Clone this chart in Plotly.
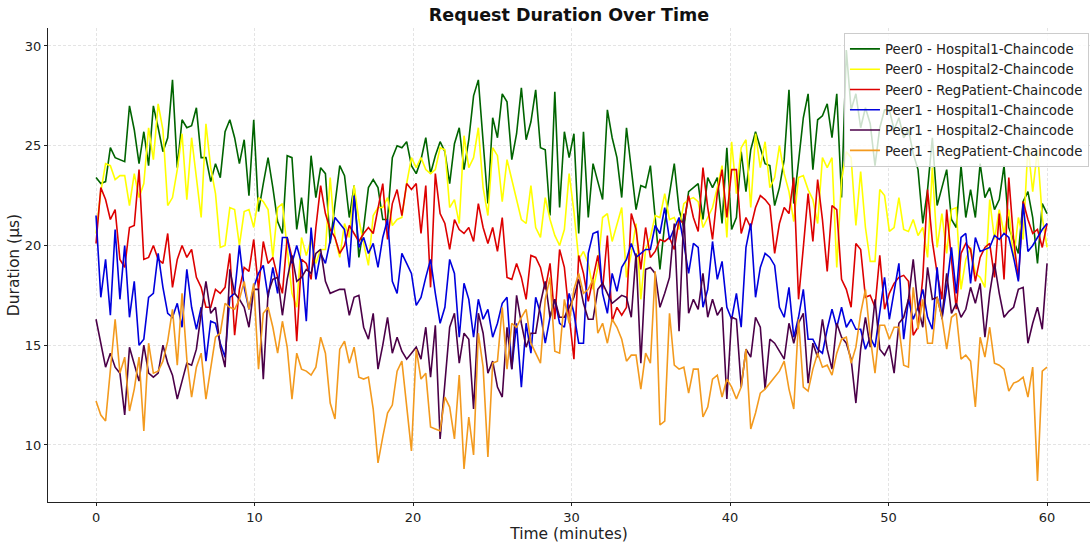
import plotly.graph_objects as go

n_points = 200
time_min = [i * 60 / (n_points - 1) for i in range(n_points)]

peer0_hosp1 = [
    23.4, 23.1, 23.2, 24.9, 24.4, 24.3, 24.2, 27.0, 25.8, 24.1, 25.7, 24.0, 27.0, 25.9, 24.7, 25.4, 28.3, 23.9, 26.3, 25.9, 26.0, 26.9, 24.4, 24.4, 23.2,
    24.1, 23.4, 25.7, 26.3, 25.4, 24.1, 25.3, 22.5, 26.3, 21.7, 23.1, 24.4, 22.9, 21.2, 20.6, 24.5, 24.4, 20.8, 22.4, 20.6, 24.5, 22.4, 23.9, 23.6, 20.1,
    22.1, 24.0, 23.5, 21.4, 23.0, 19.4, 20.9, 22.9, 23.3, 22.9, 21.3, 21.3, 24.4, 25.0, 24.9, 25.2, 24.0, 23.6, 24.3, 25.4, 23.6, 24.5, 25.2, 24.7, 23.1,
    25.1, 25.9, 23.8, 25.3, 27.5, 28.3, 25.1, 22.1, 26.4, 25.4, 27.6, 27.2, 24.3, 25.6, 27.9, 25.3, 26.2, 27.8, 24.9, 24.8, 21.5, 27.7, 21.9, 25.7, 24.4,
    25.6, 20.6, 25.7, 21.4, 24.1, 23.2, 22.3, 26.8, 25.4, 24.4, 22.4, 25.9, 24.0, 21.8, 23.0, 22.9, 24.0, 21.5, 18.8, 21.1, 22.7, 24.1, 21.8, 20.9, 22.7,
    22.9, 23.1, 21.3, 23.4, 22.9, 23.4, 21.1, 24.9, 20.8, 21.4, 24.7, 22.7, 24.8, 25.7, 24.9, 24.1, 24.0, 22.0, 22.9, 24.3, 27.8, 22.1, 24.2, 26.4, 27.6,
    23.8, 26.3, 26.5, 27.1, 25.4, 27.6, 22.4, 29.8, 26.8, 27.6, 25.9, 26.9, 26.1, 24.0, 25.9, 26.8, 26.8, 25.8, 26.4, 25.4, 25.8, 24.6, 23.8, 21.1, 22.8,
    25.4, 22.0, 22.9, 23.8, 21.3, 20.9, 24.0, 21.4, 22.8, 21.4, 24.1, 22.4, 22.9, 21.8, 22.3, 24.0, 20.9, 20.3, 19.6, 22.2, 22.7, 21.4, 19.1, 22.1, 21.6,
]

peer0_hosp2 = [
    20.6, 22.7, 24.1, 24.0, 23.3, 23.5, 23.5, 22.0, 23.6, 22.4, 23.1, 25.9, 24.3, 27.1, 25.8, 22.0, 22.4, 23.8, 25.6, 22.3, 25.4, 23.5, 21.4, 26.1, 23.9,
    22.6, 19.9, 20.0, 21.9, 21.8, 20.0, 21.7, 21.8, 20.9, 22.4, 22.2, 21.8, 19.4, 21.9, 22.1, 19.9, 17.6, 16.9, 20.4, 19.5, 20.3, 19.1, 19.8, 19.8, 23.4,
    20.4, 19.4, 21.1, 20.4, 23.0, 21.3, 20.1, 19.0, 21.5, 21.9, 21.9, 22.4, 21.0, 21.3, 21.4, 23.1, 24.4, 23.9, 24.4, 23.8, 23.6, 23.8, 24.9, 24.8, 21.9,
    22.3, 21.1, 25.5, 23.9, 24.4, 25.9, 22.9, 21.5, 24.9, 24.5, 22.2, 24.3, 23.3, 22.2, 21.3, 21.1, 23.0, 20.9, 20.4, 22.4, 21.3, 20.5, 20.0, 20.8, 23.6,
    21.7, 19.3, 19.7, 19.1, 17.8, 18.9, 21.4, 21.6, 20.2, 21.1, 21.9, 18.4, 19.6, 21.1, 17.3, 19.8, 20.4, 21.5, 21.4, 22.6, 21.3, 21.4, 20.8, 22.1, 22.3,
    22.4, 22.2, 20.9, 21.4, 21.9, 22.9, 24.0, 20.4, 25.2, 22.6, 24.9, 25.3, 21.9, 25.6, 23.9, 25.2, 22.9, 23.4, 25.0, 23.6, 22.7, 21.2, 23.4, 23.5, 22.8,
    22.3, 21.1, 24.4, 23.9, 24.4, 18.9, 23.3, 24.7, 24.4, 21.0, 23.7, 20.9, 19.2, 19.2, 22.8, 22.5, 20.7, 20.9, 22.4, 20.8, 20.7, 21.3, 20.5, 20.9, 19.4,
    23.9, 19.9, 21.6, 19.6, 21.8, 21.9, 17.8, 19.3, 19.9, 18.6, 18.4, 17.9, 22.3, 20.3, 21.8, 20.6, 21.8, 19.3, 21.4, 20.3, 25.0, 22.7, 24.8, 21.4, 19.9,
]

peer0_regpatient = [
    20.1, 22.9, 22.3, 21.3, 21.8, 19.3, 18.9, 20.9, 21.0, 23.8, 19.3, 19.4, 20.0, 19.3, 19.1, 20.6, 17.9, 19.3, 20.0, 19.4, 19.8, 18.4, 17.9, 16.9, 16.9,
    17.8, 17.6, 17.9, 19.6, 15.5, 17.8, 18.9, 18.7, 20.3, 17.8, 20.2, 19.1, 19.4, 18.4, 17.6, 20.4, 19.4, 15.2, 19.3, 19.1, 18.3, 20.9, 23.0, 21.6, 20.8,
    20.4, 19.6, 20.0, 21.0, 20.6, 20.2, 20.6, 20.9, 20.6, 21.8, 23.1, 20.3, 22.1, 22.8, 21.5, 23.1, 22.8, 23.1, 20.6, 23.0, 17.9, 23.6, 21.6, 21.1, 19.8,
    21.3, 20.8, 20.6, 20.9, 20.2, 22.1, 20.9, 20.1, 20.9, 19.7, 21.4, 18.4, 18.3, 19.1, 18.4, 17.3, 19.5, 19.4, 18.9, 17.8, 19.1, 16.3, 19.8, 18.9, 16.5,
    14.3, 19.5, 18.6, 17.2, 18.4, 19.5, 17.8, 20.5, 16.2, 16.9, 16.5, 16.9, 21.6, 20.8, 18.8, 20.9, 19.4, 19.7, 20.3, 20.2, 20.4, 19.8, 21.3, 21.1, 22.5,
    21.4, 20.7, 23.9, 21.9, 20.3, 22.6, 23.8, 21.4, 23.8, 23.8, 20.6, 21.4, 20.9, 21.9, 22.5, 22.3, 22.0, 19.6, 21.1, 21.9, 21.6, 23.4, 17.3, 19.9, 22.6,
    20.2, 23.3, 21.3, 18.7, 22.0, 21.8, 18.3, 17.8, 16.9, 20.1, 19.8, 17.4, 17.5, 16.9, 19.5, 16.8, 17.6, 18.1, 18.4, 18.5, 18.2, 15.5, 15.9, 18.4, 22.8,
    20.2, 18.6, 17.3, 21.8, 19.3, 16.8, 19.6, 20.1, 19.8, 18.2, 19.4, 19.9, 20.1, 18.4, 21.6, 18.3, 23.4, 20.3, 18.3, 22.2, 21.3, 20.6, 20.8, 19.9, 21.1,
]

peer1_hosp1 = [
    21.5, 17.4, 19.3, 16.5, 20.8, 17.3, 20.0, 16.4, 18.2, 15.0, 15.3, 17.4, 17.6, 19.6, 17.9, 16.6, 16.4, 17.1, 15.9, 18.8, 16.9, 15.8, 16.9, 14.2, 16.2,
    16.1, 15.1, 14.4, 17.4, 17.6, 20.0, 17.9, 16.8, 17.9, 18.6, 19.0, 17.4, 18.9, 17.6, 20.4, 20.4, 19.1, 20.0, 19.1, 16.2, 20.9, 18.3, 19.6, 19.1, 20.3,
    21.4, 21.1, 20.8, 18.9, 22.5, 19.9, 20.4, 19.6, 20.1, 18.9, 20.4, 21.3, 18.2, 17.6, 19.6, 19.1, 18.6, 17.0, 17.4, 18.4, 19.3, 17.6, 16.1, 16.9, 19.3,
    18.6, 15.4, 18.1, 17.3, 15.4, 17.3, 16.3, 16.8, 15.4, 16.1, 17.1, 17.4, 13.8, 16.1, 12.9, 16.1, 14.6, 17.4, 16.6, 15.1, 16.4, 17.3, 16.1, 15.9, 17.6,
    16.6, 15.1, 15.1, 19.6, 20.6, 20.7, 17.6, 16.6, 18.6, 17.7, 18.9, 19.3, 20.1, 19.4, 19.6, 19.8, 19.8, 21.0, 20.6, 21.9, 20.3, 20.9, 21.4, 20.1, 18.6,
    20.1, 19.9, 16.9, 17.8, 20.2, 18.3, 19.2, 16.9, 16.3, 17.6, 15.9, 19.9, 21.1, 17.4, 18.9, 19.6, 19.4, 19.0, 16.9, 16.4, 17.9, 15.4, 16.4, 17.8, 15.3,
    15.3, 14.8, 14.6, 15.8, 16.8, 15.9, 16.9, 15.9, 16.3, 15.8, 15.8, 14.8, 15.4, 14.9, 16.6, 18.4, 16.3, 17.6, 19.1, 15.3, 17.3, 16.3, 16.9, 17.8, 16.4,
    15.8, 18.9, 16.3, 17.9, 19.9, 17.6, 20.4, 20.6, 18.1, 20.4, 19.7, 19.8, 19.9, 20.5, 20.3, 20.6, 20.4, 19.4, 18.2, 22.1, 19.7, 20.0, 20.4, 20.8, 21.1,
]

peer1_hosp2 = [
    16.3, 15.1, 13.9, 14.6, 13.9, 13.6, 11.5, 14.9, 14.0, 13.2, 15.0, 13.6, 13.4, 13.6, 15.0, 14.1, 13.5, 12.3, 13.2, 14.1, 14.0, 14.8, 16.6, 18.2, 16.6,
    16.9, 14.9, 13.9, 18.8, 17.6, 17.3, 16.9, 15.9, 17.8, 17.8, 13.3, 17.6, 18.3, 18.4, 16.5, 18.3, 19.5, 18.2, 18.4, 18.8, 18.6, 19.6, 19.8, 18.2, 17.6,
    17.7, 17.8, 17.8, 16.5, 17.4, 17.5, 15.9, 15.3, 16.6, 13.8, 15.0, 16.4, 14.6, 15.4, 14.7, 14.3, 14.6, 14.9, 14.3, 15.9, 13.4, 16.0, 10.3, 13.3, 15.9,
    16.6, 14.1, 15.6, 15.3, 11.8, 16.6, 15.6, 13.6, 14.2, 12.9, 12.4, 15.9, 13.8, 17.5, 16.1, 14.9, 15.6, 15.6, 17.1, 18.2, 16.4, 17.3, 16.4, 16.4, 16.9,
    17.4, 18.3, 17.1, 16.3, 16.3, 17.8, 18.1, 17.6, 17.1, 17.3, 17.5, 17.4, 16.4, 19.6, 14.1, 18.8, 18.9, 18.6, 16.9, 17.6, 18.4, 21.1, 15.7, 21.6, 16.6,
    17.3, 16.8, 18.6, 16.4, 17.3, 16.5, 16.9, 12.3, 16.4, 16.3, 12.9, 14.8, 14.4, 16.4, 15.9, 12.8, 15.3, 15.1, 14.7, 14.3, 16.1, 15.1, 16.1, 16.6, 13.1,
    15.1, 14.4, 16.3, 14.8, 13.8, 16.1, 15.4, 15.1, 14.3, 12.1, 14.8, 16.4, 14.9, 17.3, 14.8, 14.5, 15.0, 13.6, 16.1, 16.4, 17.3, 19.3, 16.9, 15.9, 18.9,
    17.3, 17.4, 16.4, 18.6, 16.6, 17.1, 16.4, 16.8, 17.9, 17.1, 18.1, 15.4, 17.6, 19.1, 17.6, 16.4, 16.7, 16.9, 17.8, 17.9, 15.1, 16.1, 16.9, 15.8, 19.1,
]

peer1_regpatient = [
    12.2, 11.5, 11.2, 13.7, 16.3, 13.6, 14.4, 11.7, 12.8, 14.4, 10.7, 15.1, 13.6, 13.7, 14.2, 15.2, 16.8, 14.0, 17.6, 14.3, 12.4, 13.9, 14.6, 12.3, 13.9,
    15.4, 15.6, 17.1, 16.9, 16.8, 17.3, 18.2, 16.8, 18.1, 13.8, 16.6, 16.9, 15.9, 14.6, 16.2, 14.9, 12.3, 14.6, 13.8, 13.7, 13.5, 13.9, 15.4, 14.6, 12.1,
    11.3, 14.8, 15.2, 14.1, 14.9, 13.4, 13.3, 13.4, 11.8, 9.1, 10.4, 11.6, 12.0, 13.7, 14.2, 11.8, 9.7, 14.8, 13.3, 13.6, 10.9, 10.8, 10.7, 12.4, 11.9,
    10.3, 13.5, 8.8, 11.4, 9.5, 15.6, 13.9, 9.4, 14.1, 14.2, 16.9, 13.8, 16.1, 15.9, 16.4, 16.8, 15.1, 14.6, 14.1, 17.3, 18.4, 14.7, 14.6, 17.3, 16.1,
    17.8, 18.6, 17.6, 17.8, 18.3, 15.6, 16.1, 15.1, 16.3, 15.9, 15.3, 14.2, 14.5, 14.5, 12.8, 14.6, 14.1, 18.7, 11.0, 11.2, 16.6, 14.0, 13.8, 13.9, 12.6,
    13.8, 13.8, 11.4, 11.9, 13.3, 13.5, 12.4, 13.3, 12.9, 12.3, 12.9, 14.8, 10.8, 11.6, 12.6, 12.8, 13.1, 13.4, 13.7, 14.2, 12.8, 11.8, 16.3, 12.9, 12.7,
    13.8, 14.6, 13.9, 14.0, 13.5, 14.6, 15.3, 15.4, 14.1, 14.9, 16.6, 17.8, 15.4, 13.6, 16.0, 16.0, 15.3, 15.9, 15.9, 14.0, 13.9, 17.9, 15.8, 17.3, 15.1,
    15.1, 17.4, 16.4, 14.8, 16.4, 16.6, 14.3, 14.5, 14.2, 11.9, 15.4, 14.4, 15.9, 14.1, 14.0, 13.8, 12.7, 13.1, 13.2, 13.4, 12.4, 13.9, 8.2, 13.7, 13.9,
]

series_names = [
    "Peer0 - Hospital1-Chaincode",
    "Peer0 - Hospital2-Chaincode",
    "Peer0 - RegPatient-Chaincode",
    "Peer1 - Hospital1-Chaincode",
    "Peer1 - Hospital2-Chaincode",
    "Peer1 - RegPatient-Chaincode",
]
series_values = [peer0_hosp1, peer0_hosp2, peer0_regpatient, peer1_hosp1, peer1_hosp2, peer1_regpatient]
series_colors = ["#006400", "#FFFF00", "#DD0000", "#0000DD", "#4B0048", "#F39A1E"]

x_ticks = [0, 10, 20, 30, 40, 50, 60]
y_ticks = [10, 15, 20, 25, 30]

fig = go.Figure()
for name, vals, col in zip(series_names, series_values, series_colors):
    fig.add_trace(go.Scatter(
        x=time_min, y=vals, mode="lines", name=name,
        line=dict(color=col, width=1.6),
    ))

font_family = "DejaVu Sans, Verdana, sans-serif"
fig.update_layout(
    width=1090, height=545,
    margin=dict(l=48, r=0, t=28, b=43),
    paper_bgcolor="white", plot_bgcolor="white",
    font=dict(family=font_family, color="#222222", size=13),
    title=dict(text="<b>Request Duration Over Time</b>", x=0.5, xref="paper",
               y=1 - 15 / 545, yref="container", xanchor="center", yanchor="middle",
               font=dict(size=17.5, color="#111111")),
    showlegend=True,
    legend=dict(x=0.999, y=0.99, xanchor="right", yanchor="top",
                bgcolor="rgba(255,255,255,0.8)", bordercolor="#cccccc", borderwidth=1,
                font=dict(size=13.3, color="#222222"), tracegroupgap=0,
                itemwidth=30),
)
fig.update_xaxes(
    range=[-3.03, 62.71], tickvals=x_ticks, ticktext=[str(t) for t in x_ticks],
    showgrid=True, gridcolor="#e4e4e4", griddash="3px,2px", gridwidth=0.8,
    showline=True, linecolor="#222222", linewidth=1.3, mirror=False,
    ticks="outside", ticklen=3, tickcolor="#222222", zeroline=False,
    tickfont=dict(size=13),
    title=dict(text="Time (minutes)", font=dict(size=15.5), standoff=0),
)
fig.update_yaxes(
    range=[7.14, 30.9], tickvals=y_ticks, ticktext=[str(t) for t in y_ticks],
    showgrid=True, gridcolor="#e4e4e4", griddash="3px,2px", gridwidth=0.8,
    showline=True, linecolor="#222222", linewidth=1.3, mirror=False,
    ticks="outside", ticklen=3, tickcolor="#222222", zeroline=False,
    tickfont=dict(size=13),
    title=dict(text="Duration (µs)", font=dict(size=15.5), standoff=1),
)

fig.write_html("out.html")
